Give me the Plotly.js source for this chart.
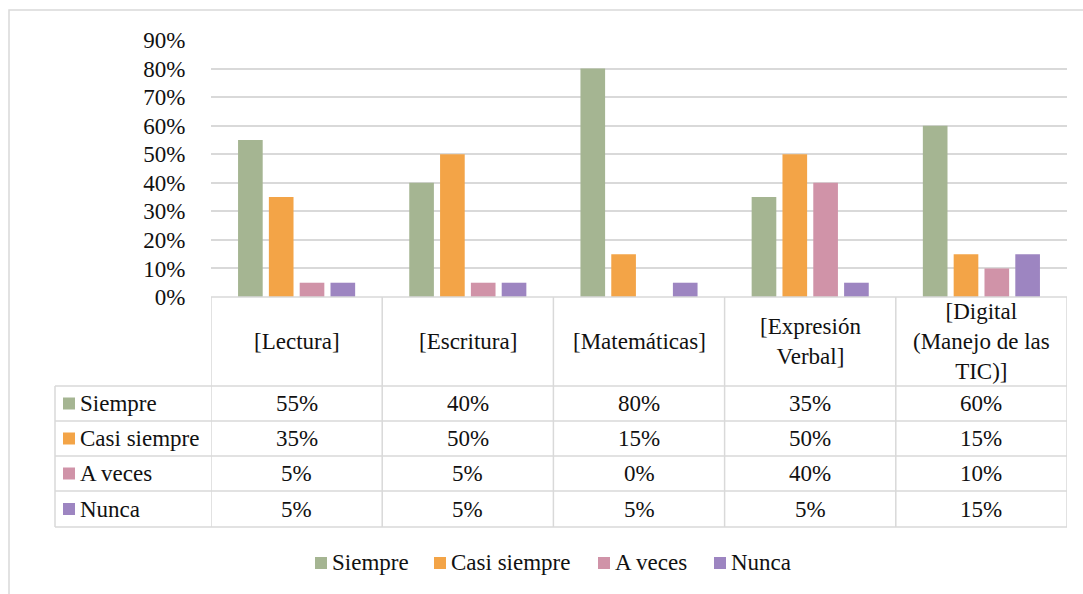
<!DOCTYPE html>
<html>
<head>
<meta charset="utf-8">
<script src="https://cdn.plot.ly/plotly-3.0.1.min.js"></script>
<style>
body{margin:0;background:#fff;}
#wrap{position:relative;width:1083px;height:594px;}
#legend{position:absolute;left:0;top:0;width:1083px;height:594px;pointer-events:none;z-index:5;font-family:'Liberation Serif';font-size:23px;color:#111;}
.lk{position:absolute;width:12px;height:12px;}
.lt{position:absolute;line-height:26px;white-space:nowrap;}
#chart{position:absolute;left:0;top:0;width:1083px;height:594px;}
</style>
</head>
<body>
<div id="wrap">
<div id="legend"></div>
<div id="chart"></div>
</div>
<script>
// ---- data ----
const categories = ["[Lectura]", "[Escritura]", "[Matemáticas]", "[Expresión<br>Verbal]", "[Digital<br>(Manejo de las<br>TIC)]"];
const seriesNames = ["Siempre", "Casi siempre", "A veces", "Nunca"];
const siempre     = [0.55, 0.40, 0.80, 0.35, 0.60];
const casiSiempre = [0.35, 0.50, 0.15, 0.50, 0.15];
const aVeces      = [0.05, 0.05, 0.00, 0.40, 0.10];
const nunca       = [0.05, 0.05, 0.05, 0.05, 0.15];
const yTicks      = [0, 0.1, 0.2, 0.3, 0.4, 0.5, 0.6, 0.7, 0.8, 0.9];
const colors      = ["#A5B592", "#F3A447", "#D093A8", "#9D85C1"];

const seriesValues = [siempre, casiSiempre, aVeces, nunca];
const TXT = "#111";
const GRID = "#d9d9d9";

const W = 1083, H = 594;
const L = 211, R = 16, T = 40, B = 297;
const plotW = W - L - R, plotH = H - T - B;
const py = p => (H - B - p) / plotH;      // pixel y -> paper y
const px = p => (p - L) / plotW;          // pixel x -> paper x

// ---- HTML legend (below the table) ----
const legendKeyX = [315, 434, 598, 714];
const legEl = document.getElementById("legend");
seriesNames.forEach((n, s) => {
  const k = document.createElement("div");
  k.className = "lk";
  k.style.left = legendKeyX[s] + "px";
  k.style.top = "557px";
  k.style.background = colors[s];
  legEl.appendChild(k);
  const t = document.createElement("div");
  t.className = "lt";
  t.style.left = (legendKeyX[s] + 17) + "px";
  t.style.top = "550px";
  t.textContent = n;
  legEl.appendChild(t);
});

const xIdx = categories.map((c, i) => i);

const traces = seriesValues.map((vals, s) => ({
  type: "bar",
  name: seriesNames[s],
  x: xIdx,
  y: vals,
  marker: {color: colors[s]},
  hoverinfo: "skip"
}));

// ---- table geometry ----
const headerBottom = 386;
const rowLines = [386, 421, 456, 491, 527];
const labelLeft = 55;
const shapes = [];
const annotations = [];
const lineStyle = {color: GRID, width: 1.5};

shapes.push({type: "line", xref: "x", yref: "paper", x0: -0.5, x1: categories.length - 0.5, y0: 0, y1: 0, line: lineStyle});
rowLines.forEach(r => {
  shapes.push({type: "line", xref: "paper", yref: "paper", x0: px(labelLeft), x1: 1, y0: py(r), y1: py(r), line: lineStyle});
});
for (let i = 0; i <= categories.length; i++) {
  shapes.push({type: "line", xref: "x", yref: "paper", x0: i - 0.5, x1: i - 0.5, y0: 0, y1: py(rowLines[rowLines.length - 1]), line: lineStyle});
}
shapes.push({type: "line", xref: "paper", yref: "paper", x0: px(labelLeft), x1: px(labelLeft), y0: py(headerBottom), y1: py(rowLines[rowLines.length - 1]), line: lineStyle});

categories.forEach((c, i) => {
  annotations.push({xref: "x", yref: "paper", x: i, y: py((297 + headerBottom) / 2), text: c,
    showarrow: false, xanchor: "center", yanchor: "middle", align: "center",
    font: {family: "Liberation Serif", size: 23}});
});
seriesValues.forEach((vals, s) => {
  const top = rowLines[s], bot = rowLines[s + 1];
  const cy = py((top + bot) / 2);
  shapes.push({type: "rect", xref: "paper", yref: "paper", x0: px(63), x1: px(75),
    y0: py((top + bot) / 2 - 6), y1: py((top + bot) / 2 + 6), fillcolor: colors[s], line: {width: 0}});
  annotations.push({xref: "paper", yref: "paper", x: px(78), y: cy, text: seriesNames[s],
    showarrow: false, xanchor: "left", yanchor: "middle",
    font: {family: "Liberation Serif", size: 23}});
  vals.forEach((v, i) => {
    annotations.push({xref: "x", yref: "paper", x: i, y: cy, text: Math.round(v * 100) + "%",
      showarrow: false, xanchor: "center", yanchor: "middle",
      font: {family: "Liberation Serif", size: 23}});
  });
});

// outer chart border
shapes.push({type: "rect", xref: "paper", yref: "paper", x0: px(9), x1: px(1095), y0: py(10), y1: py(610),
  line: {color: GRID, width: 1.5}, fillcolor: "rgba(0,0,0,0)"});

const layout = {
  width: W, height: H,
  margin: {l: L, r: R, t: T, b: B, pad: 0},
  paper_bgcolor: "rgba(255,255,255,1)", plot_bgcolor: "rgba(255,255,255,1)",
  font: {color: TXT},
  barmode: "group", bargap: 0.28, bargroupgap: 0.2,
  showlegend: false,
  xaxis: {type: "linear", range: [-0.5, categories.length - 0.5], showticklabels: false, showgrid: false,
    zeroline: false, showline: false, ticks: ""},
  yaxis: {range: [0, 0.9], tickvals: yTicks, tickformat: ".0%", showgrid: true, gridcolor: GRID, gridwidth: 1.5,
    zeroline: false, showline: false, ticks: "outside", ticklen: 20, tickcolor: "rgba(0,0,0,0)",
    tickfont: {family: "Liberation Serif", size: 23}},
  shapes: shapes,
  annotations: annotations
};

Plotly.newPlot("chart", traces, layout, {displayModeBar: false});
</script>
</body>
</html>
